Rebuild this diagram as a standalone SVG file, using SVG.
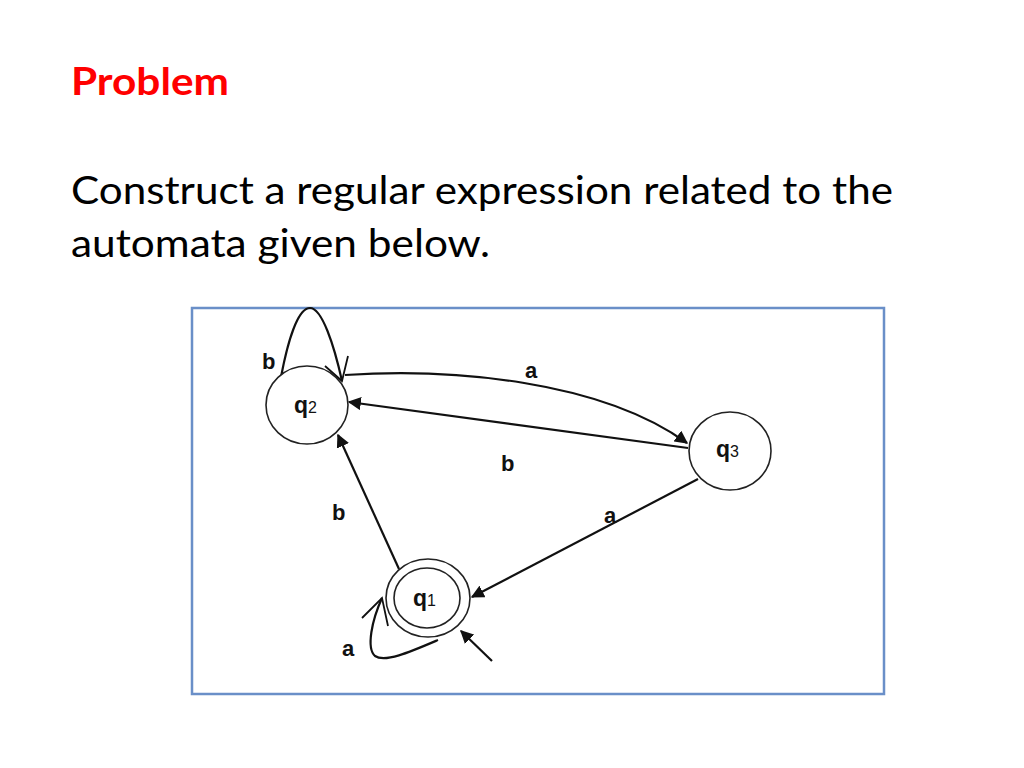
<svg xmlns="http://www.w3.org/2000/svg" width="1024" height="768" viewBox="0 0 1024 768">
<style>
.title{font-family:Lato,"Open Sans","Liberation Sans",sans-serif;font-weight:bold;font-size:38px;fill:#ff0000}
.body{font-family:Lato,"Open Sans","Liberation Sans",sans-serif;font-size:38px;fill:#000}
.st{fill:#fff;stroke:#222;stroke-width:1.6}
.q{font-family:"Liberation Sans",Arial,sans-serif;font-weight:bold;font-size:23px;fill:#111}
.sub{font-family:"Liberation Sans",Arial,sans-serif;font-weight:normal;font-size:16px;fill:#111}
.lbl{font-family:"Liberation Sans",Arial,sans-serif;font-weight:bold;font-size:22px;fill:#111}
.e{fill:none;stroke:#111;stroke-width:2.2}
.v{fill:none;stroke:#111;stroke-width:1.8}
</style>
<defs>
<marker id="ah" viewBox="0 0 10 10" refX="9" refY="5" markerWidth="6" markerHeight="6" markerUnits="strokeWidth" orient="auto">
<path d="M0,0 L10,5 L0,10 z" fill="#111"/>
</marker>
</defs>
<rect width="1024" height="768" fill="#fff"/>
<text class="title" x="71" y="95" textLength="158" lengthAdjust="spacingAndGlyphs">Problem</text>
<text class="body" x="71" y="204" textLength="822" lengthAdjust="spacingAndGlyphs">Construct a regular expression related to the</text>
<text class="body" x="71" y="257" textLength="419" lengthAdjust="spacingAndGlyphs">automata given below.</text>
<rect x="192" y="308" width="692" height="386" fill="#fff" stroke="#6a8fc8" stroke-width="2.5"/>
<g id="connectors">
<path class="e" d="M281,377 C288,340 298,308 310,308 C322,308 334,345 342,381"/>
<path class="v" d="M325,366 L342,381 L348,356"/>
<path class="e" d="M345,375 C450,368 600,380 687,443" marker-end="url(#ah)"/>
<line class="e" x1="688" y1="448" x2="349" y2="402" marker-end="url(#ah)"/>
<line class="e" x1="399" y1="569" x2="338" y2="435" marker-end="url(#ah)"/>
<line class="e" x1="698" y1="479" x2="472" y2="597" marker-end="url(#ah)"/>
<path class="e" d="M438,640 C410,652 385,663 375,656 C366,648 372,620 382,598"/>
<path class="v" d="M362,618 L382,598 L388,626"/>
<line class="e" x1="492" y1="661" x2="461" y2="631" marker-end="url(#ah)"/>
<text class="lbl" x="262" y="369">b</text>
<text class="lbl" x="525" y="378">a</text>
<text class="lbl" x="501" y="471">b</text>
<text class="lbl" x="332" y="520">b</text>
<text class="lbl" x="604" y="523">a</text>
<text class="lbl" x="342" y="656">a</text>
</g>
<g id="q2">
<ellipse class="st" cx="307" cy="405" rx="41" ry="39"/>
<text class="q" x="294" y="413">q<tspan class="sub">2</tspan></text>
</g>
<g id="q3">
<ellipse class="st" cx="730" cy="451" rx="41" ry="39"/>
<text class="q" x="716" y="457">q<tspan class="sub">3</tspan></text>
</g>
<g id="q1">
<ellipse class="st" cx="428" cy="598" rx="42" ry="39"/>
<ellipse class="st" cx="427" cy="598" rx="33" ry="30"/>
<text class="q" x="413" y="606">q<tspan class="sub">1</tspan></text>
</g>
</svg>
